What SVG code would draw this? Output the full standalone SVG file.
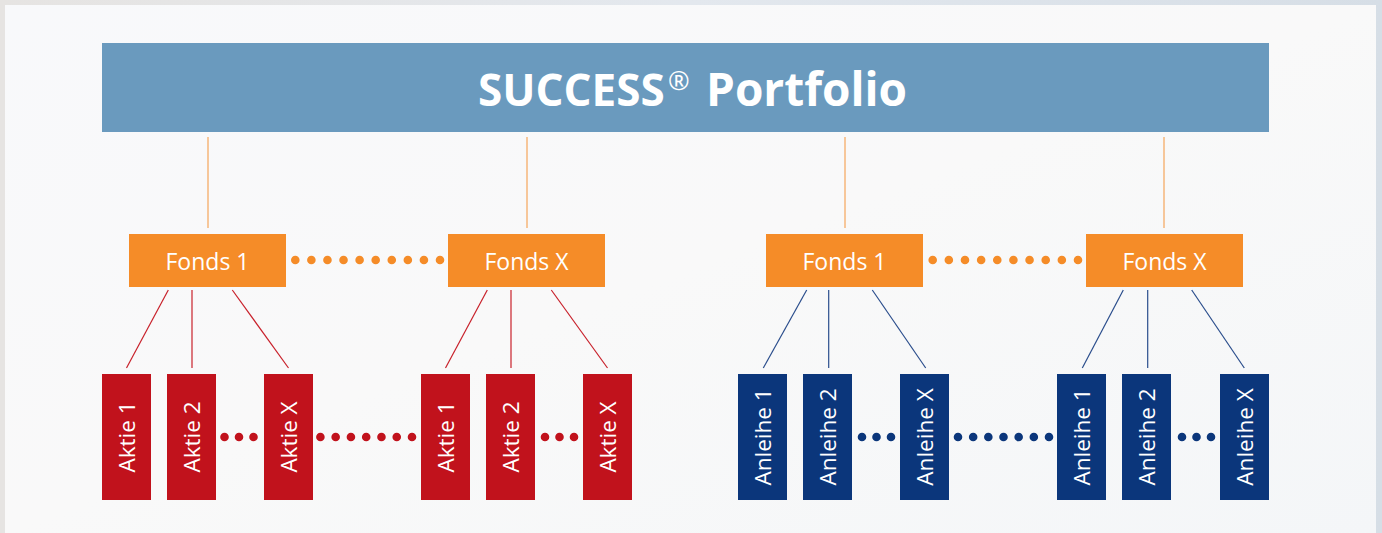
<svg xmlns="http://www.w3.org/2000/svg" width="1382" height="533" viewBox="0 0 1382 533">
  <defs>
    <linearGradient id="frame" x1="0" y1="0" x2="1" y2="0">
      <stop offset="0" stop-color="#e6e4e2"/>
      <stop offset="0.5" stop-color="#e3e8ee"/>
      <stop offset="1" stop-color="#d6dee6"/>
    </linearGradient>
    <linearGradient id="panel" x1="0" y1="0" x2="1" y2="1">
      <stop offset="0" stop-color="#f8f9fb"/>
      <stop offset="0.5" stop-color="#f9f9f9"/>
      <stop offset="1" stop-color="#f4f6f8"/>
    </linearGradient>
    <style>
      .title-bar { fill: #6a9abe; }
      .title { font-family: "Open Sans", "Liberation Sans", sans-serif; font-weight: 700; font-size: 46px; fill: #ffffff; }
      .reg { font-family: "Open Sans", "Liberation Sans", sans-serif; font-weight: 400; font-size: 26px; fill: #ffffff; }
      .fonds rect { fill: #f58c28; }
      .fonds text { font-family: "Open Sans", "Liberation Sans", sans-serif; font-size: 23px; fill: #ffffff; text-anchor: middle; }
      .aktie rect { fill: #c1121c; }
      .anleihe rect { fill: #0b367b; }
      .leaf text { font-family: "Open Sans", "Liberation Sans", sans-serif; font-size: 22.5px; fill: #ffffff; text-anchor: middle; }
      .link-top { stroke: #f6b67a; stroke-width: 1.5; fill: none; }
      .link-red { stroke: #c8202a; stroke-width: 1.2; fill: none; }
      .link-blue { stroke: #2a4d8c; stroke-width: 1.2; fill: none; }
      .dots { stroke-linecap: round; stroke-width: 8.6; fill: none; }
      .dots-orange { stroke: #f58c28; }
      .dots-red { stroke: #c1121c; }
      .dots-blue { stroke: #0b367b; }
    </style>
  </defs>

  <rect x="0" y="0" width="1382" height="533" fill="url(#frame)"/>
  <rect x="5" y="5" width="1371" height="528" fill="url(#panel)"/>

  <g id="portfolio">
    <rect class="title-bar" x="102" y="43" width="1167" height="89"/>
    <text class="title" x="478" y="106" style="font-size:44px">SUCCESS</text>
    <text class="reg" x="668" y="90">®</text>
    <text class="title" x="706" y="106">Portfolio</text>
  </g>

  <g id="connectors">
    <line class="link-top" x1="208" y1="137" x2="208" y2="228"/>
    <line class="link-top" x1="527" y1="137" x2="527" y2="228"/>
    <line class="link-top" x1="845" y1="137" x2="845" y2="228"/>
    <line class="link-top" x1="1164" y1="137" x2="1164" y2="228"/>

    <line class="link-red" x1="168.3" y1="290" x2="126.5" y2="368"/>
    <line class="link-red" x1="192" y1="290" x2="192" y2="368"/>
    <line class="link-red" x1="232.3" y1="290" x2="288.5" y2="368"/>
    <line class="link-red" x1="487.3" y1="290" x2="445.5" y2="368"/>
    <line class="link-red" x1="511" y1="290" x2="511" y2="368"/>
    <line class="link-red" x1="551.3" y1="290" x2="607.5" y2="368"/>

    <line class="link-blue" x1="806.7" y1="290" x2="763.3" y2="368"/>
    <line class="link-blue" x1="828.7" y1="290" x2="828.7" y2="368"/>
    <line class="link-blue" x1="872.3" y1="290" x2="925.7" y2="368"/>
    <line class="link-blue" x1="1123.3" y1="290" x2="1082.3" y2="368"/>
    <line class="link-blue" x1="1147.7" y1="290" x2="1147.7" y2="368"/>
    <line class="link-blue" x1="1191.7" y1="290" x2="1244.3" y2="368"/>

    <line class="dots dots-orange" x1="295.3" y1="260" x2="441" y2="260" stroke-dasharray="0 16.078"/>
    <line class="dots dots-orange" x1="932.7" y1="260" x2="1079" y2="260" stroke-dasharray="0 16.144"/>

    <line class="dots dots-red" x1="224.5" y1="437" x2="254.5" y2="437" stroke-dasharray="0 14.5"/>
    <line class="dots dots-red" x1="320.4" y1="437" x2="413" y2="437" stroke-dasharray="0 15.267"/>
    <line class="dots dots-red" x1="545" y1="437" x2="575" y2="437" stroke-dasharray="0 14.5"/>

    <line class="dots dots-blue" x1="862" y1="437" x2="892" y2="437" stroke-dasharray="0 14.5"/>
    <line class="dots dots-blue" x1="958" y1="437" x2="1050" y2="437" stroke-dasharray="0 15.167"/>
    <line class="dots dots-blue" x1="1182" y1="437" x2="1212" y2="437" stroke-dasharray="0 14.5"/>
  </g>

  <g id="fonds-aktien-1" class="fonds"><rect x="129" y="234" width="157" height="53"/><text x="207.5" y="269.5">Fonds 1</text></g>
  <g id="fonds-aktien-x" class="fonds"><rect x="448" y="234" width="157" height="53"/><text x="526.5" y="269.5">Fonds X</text></g>
  <g id="fonds-anleihen-1" class="fonds"><rect x="766" y="234" width="157" height="53"/><text x="844.5" y="269.5">Fonds 1</text></g>
  <g id="fonds-anleihen-x" class="fonds"><rect x="1086" y="234" width="157" height="53"/><text x="1164.5" y="269.5">Fonds X</text></g>

  <g id="aktie-1a" class="leaf aktie"><rect x="102" y="374" width="49" height="126"/><text transform="translate(126.5 437) rotate(-90)" y="8">Aktie 1</text></g>
  <g id="aktie-2a" class="leaf aktie"><rect x="167" y="374" width="49" height="126"/><text transform="translate(191.5 437) rotate(-90)" y="8">Aktie 2</text></g>
  <g id="aktie-xa" class="leaf aktie"><rect x="264" y="374" width="49" height="126"/><text transform="translate(288.5 437) rotate(-90)" y="8">Aktie X</text></g>
  <g id="aktie-1b" class="leaf aktie"><rect x="421" y="374" width="49" height="126"/><text transform="translate(445.5 437) rotate(-90)" y="8">Aktie 1</text></g>
  <g id="aktie-2b" class="leaf aktie"><rect x="486" y="374" width="49" height="126"/><text transform="translate(510.5 437) rotate(-90)" y="8">Aktie 2</text></g>
  <g id="aktie-xb" class="leaf aktie"><rect x="583" y="374" width="49" height="126"/><text transform="translate(607.5 437) rotate(-90)" y="8">Aktie X</text></g>

  <g id="anleihe-1a" class="leaf anleihe"><rect x="738" y="374" width="49" height="126"/><text transform="translate(762.5 437) rotate(-90)" y="8">Anleihe 1</text></g>
  <g id="anleihe-2a" class="leaf anleihe"><rect x="803" y="374" width="49" height="126"/><text transform="translate(827.5 437) rotate(-90)" y="8">Anleihe 2</text></g>
  <g id="anleihe-xa" class="leaf anleihe"><rect x="900" y="374" width="49" height="126"/><text transform="translate(924.5 437) rotate(-90)" y="8">Anleihe X</text></g>
  <g id="anleihe-1b" class="leaf anleihe"><rect x="1057" y="374" width="49" height="126"/><text transform="translate(1081.5 437) rotate(-90)" y="8">Anleihe 1</text></g>
  <g id="anleihe-2b" class="leaf anleihe"><rect x="1122" y="374" width="49" height="126"/><text transform="translate(1146.5 437) rotate(-90)" y="8">Anleihe 2</text></g>
  <g id="anleihe-xb" class="leaf anleihe"><rect x="1220" y="374" width="49" height="126"/><text transform="translate(1244.5 437) rotate(-90)" y="8">Anleihe X</text></g>
</svg>
